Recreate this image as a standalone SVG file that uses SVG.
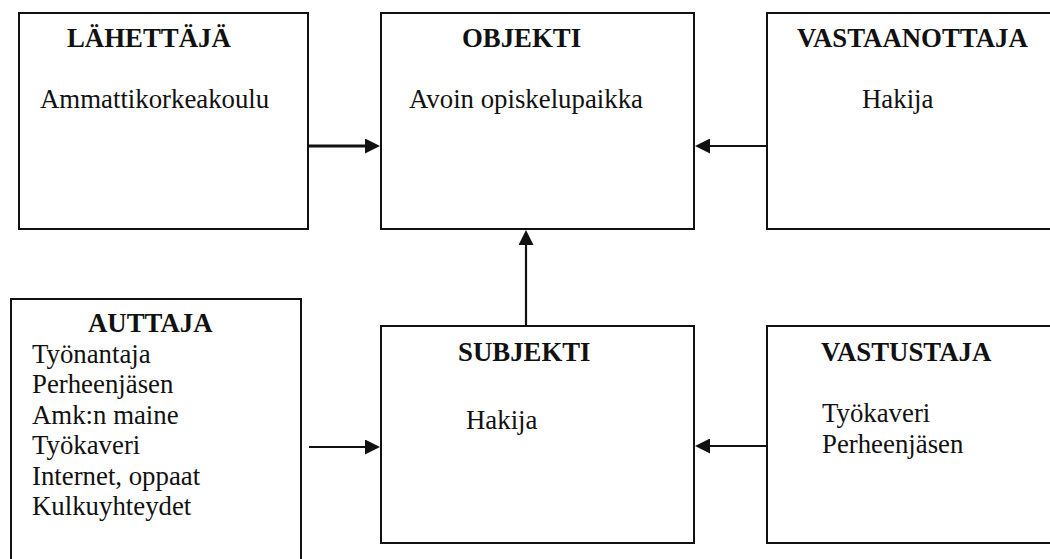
<svg xmlns="http://www.w3.org/2000/svg" width="1050" height="559" viewBox="0 0 1050 559">
  <style>
    .box { fill: #fff; stroke: #111; stroke-width: 2; }
    .title { font-family: "Liberation Serif", "Times New Roman", serif; font-size: 26.8px; font-weight: bold; fill: #111; }
    .label { font-family: "Liberation Serif", "Times New Roman", serif; font-size: 26.8px; fill: #111; }
    .link { fill: none; stroke: #111; stroke-width: 2.2; marker-end: url(#head); }
    .link.heavy { stroke-width: 3; }
  </style>
  <defs>
    <!-- solid triangular arrowhead, fixed size in user units -->
    <marker id="head" markerUnits="userSpaceOnUse" markerWidth="15" markerHeight="15" refX="5" refY="7.5" orient="auto">
      <path d="M0,0 L15,7.5 L0,15 z" fill="#111"/>
    </marker>
  </defs>

  <rect width="1050" height="559" fill="#fff"/>

  <g id="lahettaja">
    <rect class="box" x="19" y="13" width="289" height="216"/>
    <text class="title" x="67" y="47">LÄHETTÄJÄ</text>
    <text class="label" x="40" y="108">Ammattikorkeakoulu</text>
  </g>

  <g id="objekti">
    <rect class="box" x="381" y="13" width="313" height="216"/>
    <text class="title" x="462" y="47">OBJEKTI</text>
    <text class="label" x="409" y="108">Avoin opiskelupaikka</text>
  </g>

  <g id="vastaanottaja">
    <rect class="box" x="767" y="13" width="300" height="216"/>
    <text class="title" x="797" y="47">VASTAANOTTAJA</text>
    <text class="label" x="862" y="108">Hakija</text>
  </g>

  <g id="auttaja">
    <rect class="box" x="11" y="299" width="290" height="300"/>
    <text class="title" x="88" y="332">AUTTAJA</text>
    <text class="label" x="32" y="362.5">Työnantaja</text>
    <text class="label" x="32" y="393">Perheenjäsen</text>
    <text class="label" x="32" y="423.5">Amk:n maine</text>
    <text class="label" x="32" y="454">Työkaveri</text>
    <text class="label" x="32" y="484.5">Internet, oppaat</text>
    <text class="label" x="32" y="515">Kulkuyhteydet</text>
  </g>

  <g id="subjekti">
    <rect class="box" x="381" y="326" width="313" height="217"/>
    <text class="title" x="458" y="361">SUBJEKTI</text>
    <text class="label" x="466" y="429">Hakija</text>
  </g>

  <g id="vastustaja">
    <rect class="box" x="767" y="326" width="300" height="217"/>
    <text class="title" x="821" y="361">VASTUSTAJA</text>
    <text class="label" x="822" y="422">Työkaveri</text>
    <text class="label" x="822" y="453">Perheenjäsen</text>
  </g>

  <g id="connectors">
    <path class="link heavy" d="M308,146 H370"/>
    <path class="link" d="M766,146 H705"/>
    <path class="link" d="M309,447 H370"/>
    <path class="link" d="M766,446 H705"/>
    <path class="link" d="M526,325 V240"/>
  </g>
</svg>
